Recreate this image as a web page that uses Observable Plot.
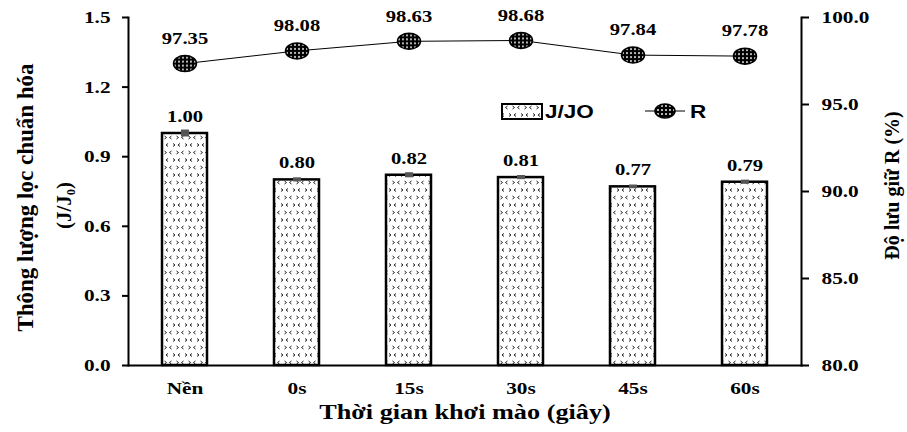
<!DOCTYPE html>
<html><head><meta charset="utf-8">
<script src="https://cdn.jsdelivr.net/npm/d3@7"></script>
<script src="https://cdn.jsdelivr.net/npm/@observablehq/plot@0.6"></script>
<style>
body{margin:0;background:#fff;}
#wrap{position:relative;width:907px;height:432px;}
#legend{position:absolute;left:0;top:0;pointer-events:none;}
</style></head><body>
<svg width="0" height="0" style="position:absolute">
<defs>
<pattern id="hatch" patternUnits="userSpaceOnUse" width="12" height="15">
<rect width="12" height="15" fill="#fff"/>
<path d="M3.5 1 L1.5 2.5 L3.5 4 M8.5 1 L10.5 2.5 L8.5 4 M5 8.5 L7 10 L5 11.5 M12 8.5 L10 10 L12 11.5 M0 8.5 L-2 10 L0 11.5" stroke="#222" stroke-width="1" fill="none"/>
</pattern>
<pattern id="rdots" patternUnits="userSpaceOnUse" width="4" height="4">
<rect width="4" height="4" fill="#000"/>
<circle cx="2" cy="2" r="0.95" fill="#fff"/>
</pattern>
</defs></svg>
<div id="wrap"></div>
<script>
const categories = ["Nền", "0s", "15s", "30s", "45s", "60s"];
const fluxValues = [1.00, 0.80, 0.82, 0.81, 0.77, 0.79];
const fluxErrors = [0.015, 0.009, 0.011, 0.009, 0.008, 0.009];
const retention = [97.35, 98.08, 98.63, 98.68, 97.84, 97.78];
const leftTicks = [0, 0.3, 0.6, 0.9, 1.2, 1.5];
const rightTicks = [80, 85, 90, 95, 100];
const xTitle = "Thời gian khơi mào (giây)";
const yTitle1 = "Thông lượng lọc chuẩn hóa";
const yTitle2 = "(J/J₀)";
const y2Title = "Độ lưu giữ R (%)";
const seriesNames = ["J/JO", "R"];

const rMin = 80, rMax = 100, yMax = 1.5;
const toY = r => (r - rMin) / (rMax - rMin) * yMax;
const data = categories.map((c, i) => ({cat: c, flux: fluxValues[i], err: fluxErrors[i], r: retention[i], ry: toY(retention[i])}));

const ellipse = {draw(ctx) {
  const rx = 11.5, ry = 8, k = 0.5523;
  ctx.moveTo(rx, 0);
  ctx.bezierCurveTo(rx, k*ry, k*rx, ry, 0, ry);
  ctx.bezierCurveTo(-k*rx, ry, -rx, k*ry, -rx, 0);
  ctx.bezierCurveTo(-rx, -k*ry, -k*rx, -ry, 0, -ry);
  ctx.bezierCurveTo(k*rx, -ry, rx, -k*ry, rx, 0);
  ctx.closePath();
}};

const serif = "'Liberation Serif','Times New Roman',serif";
const plot = Plot.plot({
  width: 907, height: 432,
  marginLeft: 128, marginRight: 106, marginTop: 17, marginBottom: 67,
  style: {fontFamily: serif, fontWeight: "bold", fontSize: "17px", color: "#000", background: "#fff"},
  x: {type: "band", domain: categories, paddingInner: 0.6, paddingOuter: 0.3, label: null},
  y: {domain: [0, yMax], label: null},
  marks: [
    Plot.barY(data, {x: "cat", y: "flux", fill: "url(#hatch)", stroke: "#000", strokeWidth: 2.5}),
    Plot.ruleX(data, {x: "cat", y1: d => d.flux - d.err, y2: d => d.flux + d.err, stroke: "#555", strokeWidth: 8}),
    Plot.text(data, {x: "cat", y: "flux", text: d => d.flux.toFixed(2), dy: -17, fontSize: 16.5}),
    Plot.line(data, {x: "cat", y: "ry", stroke: "#000", strokeWidth: 1}),
    Plot.dot(data, {x: "cat", y: "ry", symbol: ellipse, fill: "url(#rdots)", stroke: "#000", strokeWidth: 1.5, r: 10}),
    Plot.text(data, {x: "cat", y: "ry", text: d => d.r.toFixed(2), dy: -25, fontSize: 16.5}),
    Plot.axisY({ticks: leftTicks, tickFormat: d => d.toFixed(1), tickSize: 6, tickPadding: 12, label: null, fontSize: 17, strokeWidth: 2}),
    Plot.axisY({anchor: "right", ticks: rightTicks.map(toY), tickFormat: d => (rMin + d / yMax * (rMax - rMin)).toFixed(1), tickSize: 7, tickPadding: 13, label: null, fontSize: 17, strokeWidth: 2}),
    Plot.axisX({tickSize: 0, tickPadding: 16, label: null, fontSize: 17}),
    Plot.frame({anchor: "left", strokeWidth: 2}),
    Plot.frame({anchor: "right", strokeWidth: 2}),
    Plot.frame({anchor: "bottom", strokeWidth: 2}),
    Plot.text([xTitle], {frameAnchor: "bottom", textAnchor: "middle", lineAnchor: "middle", dy: 47, fontSize: 21}),
    Plot.text([yTitle1], {frameAnchor: "left", textAnchor: "middle", lineAnchor: "middle", rotate: -90, dx: -103, dy: 6, fontSize: 23}),
    Plot.text([yTitle2], {frameAnchor: "left", textAnchor: "middle", lineAnchor: "middle", rotate: -90, dx: -64, dy: 14, fontSize: 21}),
    Plot.text([y2Title], {frameAnchor: "right", textAnchor: "middle", lineAnchor: "middle", rotate: -90, dx: 91, dy: -6, fontSize: 20})
  ]
});
const wrap = document.getElementById("wrap");
wrap.appendChild(plot);

// legend overlay
const leg = d3.select(wrap).append("svg").attr("id", "legend").attr("width", 907).attr("height", 432);
leg.append("rect").attr("x", 502).attr("y", 104).attr("width", 40).attr("height", 15)
  .attr("fill", "url(#hatch)").attr("stroke", "#000").attr("stroke-width", 2);
leg.append("text").attr("x", 545).attr("y", 118).text(seriesNames[0])
  .attr("font-family", "'Liberation Sans',Arial,sans-serif").attr("font-weight", "bold").attr("font-size", 18);
leg.append("line").attr("x1", 645).attr("x2", 685).attr("y1", 111).attr("y2", 111).attr("stroke", "#000").attr("stroke-width", 1);
leg.append("ellipse").attr("cx", 665).attr("cy", 111).attr("rx", 10).attr("ry", 7)
  .attr("fill", "url(#rdots)").attr("stroke", "#000").attr("stroke-width", 1.5);
leg.append("text").attr("x", 690).attr("y", 118).text(seriesNames[1])
  .attr("font-family", "'Liberation Sans',Arial,sans-serif").attr("font-weight", "bold").attr("font-size", 18);

// horizontal stretch of non-rotated text to mimic the reference's aspect
d3.select(wrap).selectAll("text").each(function() {
  const t = this.getAttribute("transform") || "";
  if (t.includes("rotate")) return;
  if (this.querySelector("tspan")) return;
  const len = this.getComputedTextLength();
  if (len > 0) {
    this.setAttribute("textLength", len * 1.25);
    this.setAttribute("lengthAdjust", "spacingAndGlyphs");
  }
});
</script>
</body></html>
